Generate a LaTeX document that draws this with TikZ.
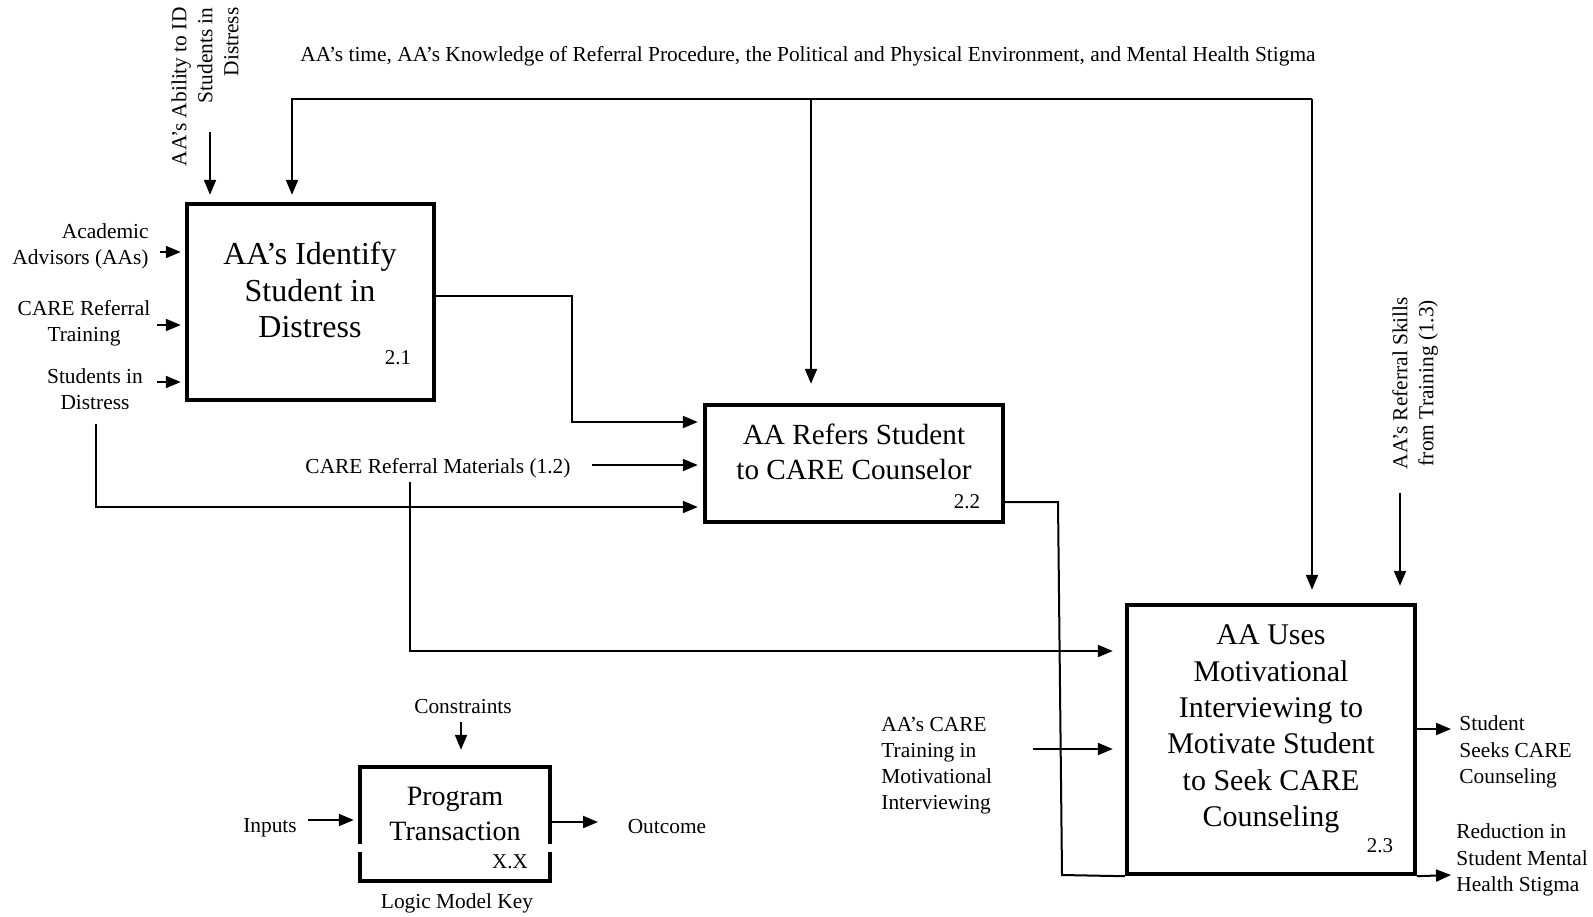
\documentclass[tikz,border=0pt]{standalone}
\usepackage{fontspec}
\setmainfont{Liberation Serif}
\usetikzlibrary{arrows.meta,fit}
\begin{document}
\begin{tikzpicture}[x=0.5pt,y=-0.5pt,
  box/.style={draw, line width=2.2pt, inner sep=0pt},
  arr/.style={line width=1pt, -{Triangle[length=7.5pt,width=6pt]}},
  ln/.style={line width=1pt},
  lab/.style={font=\fontsize{10.7}{13}\selectfont, inner sep=0pt},
  labr/.style={font=\fontsize{10.7}{13.4}\selectfont, inner sep=0pt},
  numlab/.style={font=\fontsize{10.5}{13}\selectfont, inner sep=0pt},
  t1/.style={font=\fontsize{16}{18.25}\selectfont, align=center, inner sep=0pt},
  t2/.style={font=\fontsize{14.6}{17.5}\selectfont, align=center, inner sep=0pt},
  t3/.style={font=\fontsize{15}{18.2}\selectfont, align=center, inner sep=0pt},
  tk/.style={font=\fontsize{14}{17.8}\selectfont, align=center, inner sep=0pt}]
\useasboundingbox (0,0) rectangle (1593,916);

% boxes
\node[box, fit={(187,204) (434,400)}] (b1) {};
\node[box, fit={(705,405) (1003,522)}] (b2) {};
\node[box, fit={(1127,605) (1415,874)}] (b3) {};
\node[box, fit={(360,767) (550,881)}] (bk) {};
\fill[white] (354,844) rectangle (366,852);
\fill[white] (544,844) rectangle (556,852);

% box texts
\node[t1] (b1t) at (310,290) {AA’s Identify\\Student in\\Distress};
\node[numlab] (b1n) at (398,358) {2.1};
\node[t2] (b2t) at (854,452) {AA Refers Student\\to CARE Counselor};
\node[numlab] (b2n) at (967,502) {2.2};
\node[t3] (b3t) at (1271,729) {AA Uses\\Motivational\\Interviewing to\\Motivate Student\\to Seek CARE\\Counseling};
\node[numlab] (b3n) at (1380,846) {2.3};
\node[tk] (bkt) at (455,814) {Program\\Transaction};
\node[numlab] (bkn) at (510,862) {X.X};

% labels
\node[lab] (top) at (808,56) {AA’s time, AA’s Knowledge of Referral Procedure, the Political and Physical Environment, and Mental Health Stigma};
\node[lab, rotate=90, anchor=east, align=right] (rot1) at (205,7) {AA’s Ability to ID\\Students in\\Distress};
\node[lab, rotate=90, align=center] (rot2) at (1415,383) {AA’s Referral Skills\\from Training (1.3)};
\node[lab, align=right, anchor=east] (la) at (149,246) {Academic\\Advisors (AAs)};
\node[lab, align=center] (lc) at (84,323) {CARE Referral\\Training};
\node[lab, align=center] (ls) at (95,389) {Students in\\Distress};
\node[lab] (crm) at (438,468) {CARE Referral Materials (1.2)};
\node[lab, align=left, anchor=west] (mi) at (881,766) {AA’s CARE\\Training in\\Motivational\\Interviewing};
\node[labr, align=left, anchor=west] (o1) at (1459,752) {Student\\Seeks CARE\\Counseling};
\node[labr, align=left, anchor=west] (o2) at (1456,860) {Reduction in\\Student Mental\\Health Stigma};
\node[lab] (kc) at (463,707) {Constraints};
\node[lab] (ki) at (270,828) {Inputs};
\node[lab] (ko) at (667,827) {Outcome};
\node[lab] (kl) at (457,903) {Logic Model Key};

% coordinates
\coordinate (a1) at (210,132);
\coordinate (T1) at (292,99);
\coordinate (T2) at (811,99);
\coordinate (T3) at (1312,99);
\coordinate (s1) at (1400,493);
\coordinate (i1) at (160,252);
\coordinate (i2) at (157,325);
\coordinate (i3) at (157,382);
\coordinate (k1) at (572,296);
\coordinate (k2) at (572,422);
\coordinate (crmA) at (592,465);
\coordinate (k3) at (410,482);
\coordinate (k4) at (410,651);
\coordinate (k5) at (96,424);
\coordinate (k6) at (96,507);
\coordinate (k7) at (1058,502);
\coordinate (k8) at (1062,875);
\coordinate (miA) at (1033,749);
\coordinate (o1A) at (1451,729);
\coordinate (o2A) at (1451,875);
\coordinate (kcA) at (461,722);
\coordinate (kiA) at (308,820);
\coordinate (koA) at (598,822);

% connectors
\draw[arr, shorten >=3.5pt] (a1) -- (b1.north -| a1);
\draw[arr, shorten >=3.5pt] (T3) -- (T1) -- (b1.north -| T1);
\draw[arr, shorten >=9.5pt] (T2) -- (b2.north -| T2);
\draw[arr, shorten >=6.5pt] (T3) -- (b3.north -| T3);
\draw[arr, shorten >=8.5pt] (s1) -- (b3.north -| s1);
\draw[arr, shorten >=2pt] (i1) -- (b1.west |- i1);
\draw[arr, shorten >=2pt] (i2) -- (b1.west |- i2);
\draw[arr, shorten >=2pt] (i3) -- (b1.west |- i3);
\draw[arr, shorten >=2.5pt] (b1.east |- k1) -- (k1) -- (k2) -- (b2.west |- k2);
\draw[arr, shorten >=2.5pt] (crmA) -- (b2.west |- crmA);
\draw[arr, shorten >=6pt] (k3) -- (k4) -- (b3.west |- k4);
\draw[arr, shorten >=2.5pt] (k5) -- (k6) -- (b2.west |- k6);
\draw[ln] (b2.east |- k7) -- (k7) -- (k8) -- (b3.south west);
\draw[arr] (b3.south east) -- (o2A);
\draw[arr, shorten >=6pt] (miA) -- (b3.west |- miA);
\draw[arr] (b3.east |- o1A) -- (o1A);
\draw[arr, shorten >=7.5pt] (kcA) -- (bk.north -| kcA);
\draw[arr, shorten >=2pt] (kiA) -- (bk.west |- kiA);
\draw[arr] (bk.east |- koA) -- (koA);
\end{tikzpicture}
\end{document}
